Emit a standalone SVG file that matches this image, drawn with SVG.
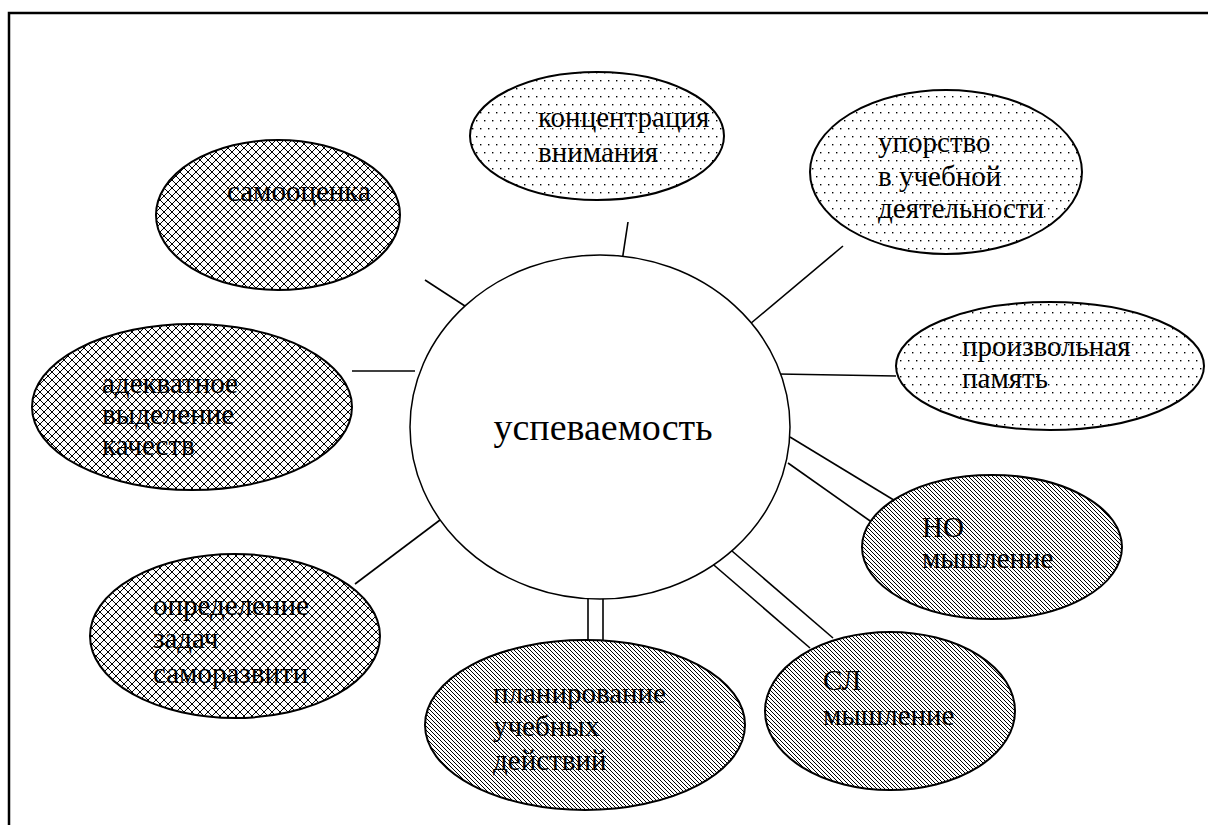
<svg xmlns="http://www.w3.org/2000/svg" width="1208" height="825" viewBox="0 0 1208 825">
<style>
.e{stroke:#000;stroke-width:2}
.t{font-family:'Liberation Serif','Times New Roman',serif;font-size:29px;fill:#000}
.big{font-size:38px}
.c{stroke:#000;stroke-width:1.6;fill:none}
</style>
<defs>
<pattern id="dots" width="8" height="16" patternUnits="userSpaceOnUse">
<rect width="8" height="16" fill="#fff"/>
<rect x="0" y="0" width="1.4" height="1.4" fill="#000"/>
<rect x="4" y="8" width="1.4" height="1.4" fill="#000"/>
</pattern>
<pattern id="cross" width="8" height="8" patternUnits="userSpaceOnUse" shape-rendering="crispEdges">
<rect width="8" height="8" fill="#fff"/>
<g fill="#000">
<rect x="0" y="0" width="1" height="1"/><rect x="1" y="1" width="1" height="1"/><rect x="2" y="2" width="1" height="1"/><rect x="3" y="3" width="1" height="1"/>
<rect x="4" y="4" width="1" height="1"/><rect x="5" y="5" width="1" height="1"/><rect x="6" y="6" width="1" height="1"/><rect x="7" y="7" width="1" height="1"/>
<rect x="7" y="0" width="1" height="1"/><rect x="6" y="1" width="1" height="1"/><rect x="5" y="2" width="1" height="1"/><rect x="4" y="3" width="1" height="1"/>
<rect x="3" y="4" width="1" height="1"/><rect x="2" y="5" width="1" height="1"/><rect x="1" y="6" width="1" height="1"/><rect x="0" y="7" width="1" height="1"/>
</g>
</pattern>
<pattern id="diag" width="4" height="4" patternUnits="userSpaceOnUse" shape-rendering="crispEdges">
<rect width="4" height="4" fill="#fff"/>
<g fill="#000">
<rect x="0" y="0" width="1" height="1"/><rect x="1" y="1" width="1" height="1"/><rect x="2" y="2" width="1" height="1"/><rect x="3" y="3" width="1" height="1"/>
</g>
</pattern>
</defs>
<rect width="1208" height="825" fill="#fff"/>
<path d="M9,825V13H1208" fill="none" stroke="#000" stroke-width="2.5"/>
<g id="connectors">
<line class="c" x1="425" y1="280" x2="468" y2="308"/>
<line class="c" x1="352" y1="371" x2="415" y2="371"/>
<line class="c" x1="355" y1="584" x2="440" y2="520"/>
<line class="c" x1="628" y1="222" x2="621" y2="268"/>
<line class="c" x1="843" y1="246" x2="750" y2="324"/>
<line class="c" x1="778" y1="374" x2="896" y2="376"/>
<line class="c" x1="790" y1="437" x2="897" y2="502"/>
<line class="c" x1="788" y1="463" x2="873" y2="523"/>
<line class="c" x1="732" y1="551" x2="833" y2="638"/>
<line class="c" x1="708" y1="560" x2="810" y2="648"/>
<line class="c" x1="588" y1="592" x2="588" y2="643"/>
<line class="c" x1="603" y1="592" x2="603" y2="643"/>
</g>
<g id="center">
<ellipse cx="600" cy="427" rx="190" ry="172" fill="#fff" stroke="#000" stroke-width="1.5"/>
<text class="t big" x="603" y="440" text-anchor="middle">успеваемость</text>
</g>
<g id="n-konc">
<ellipse class="e" cx="597" cy="136" rx="127" ry="64" fill="url(#dots)" stroke-width="3"/>
<text class="t" x="538" y="127">концентрация</text>
<text class="t" x="538" y="162">внимания</text>
</g>
<g id="n-uporstvo">
<ellipse class="e" cx="946" cy="172" rx="136" ry="82" fill="url(#dots)"/>
<text class="t" x="878" y="152">упорство</text>
<text class="t" x="878" y="186">в учебной</text>
<text class="t" x="878" y="218">деятельности</text>
</g>
<g id="n-pamyat">
<ellipse class="e" cx="1050" cy="366" rx="154" ry="64" fill="url(#dots)"/>
<text class="t" x="962" y="356">произвольная</text>
<text class="t" x="962" y="388">память</text>
</g>
<g id="n-no">
<ellipse class="e" cx="992" cy="547" rx="130" ry="72" fill="url(#diag)"/>
<text class="t" x="922" y="537">НО</text>
<text class="t" x="922" y="568">мышление</text>
</g>
<g id="n-sl">
<ellipse class="e" cx="890" cy="711" rx="125" ry="79" fill="url(#diag)"/>
<text class="t" x="823" y="690">СЛ</text>
<text class="t" x="823" y="725">мышление</text>
</g>
<g id="n-plan">
<ellipse class="e" cx="585" cy="725" rx="160" ry="85" fill="url(#diag)"/>
<text class="t" x="493" y="703">планирование</text>
<text class="t" x="493" y="736">учебных</text>
<text class="t" x="493" y="770">действий</text>
</g>
<g id="n-opr">
<ellipse class="e" cx="235" cy="636" rx="145" ry="82" fill="url(#cross)"/>
<text class="t" x="153" y="615">определение</text>
<text class="t" x="153" y="648">задач</text>
<text class="t" x="153" y="683">саморазвити</text>
</g>
<g id="n-adek">
<ellipse class="e" cx="192" cy="407" rx="160" ry="83" fill="url(#cross)"/>
<text class="t" x="102" y="393">адекватное</text>
<text class="t" x="102" y="424">выделение</text>
<text class="t" x="102" y="455">качеств</text>
</g>
<g id="n-samo">
<ellipse class="e" cx="278" cy="215" rx="122" ry="75" fill="url(#cross)"/>
<text class="t" x="227" y="201">самооценка</text>
</g>
</svg>
